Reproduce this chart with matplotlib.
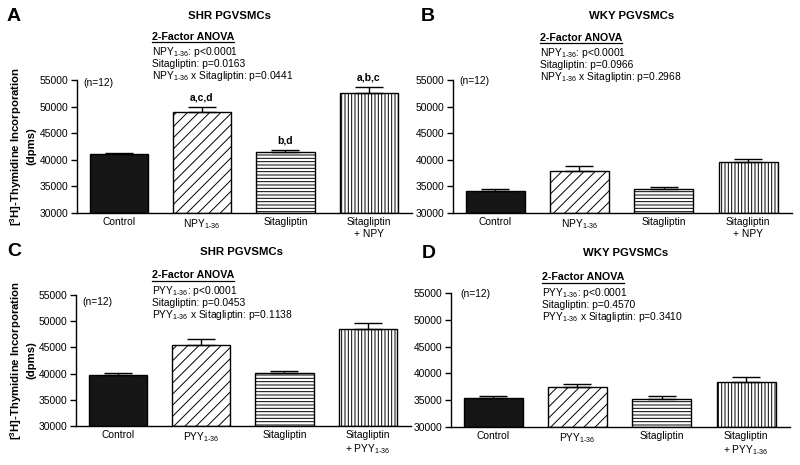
import matplotlib
matplotlib.use("Agg")
import matplotlib.pyplot as plt
from matplotlib.lines import Line2D
import numpy as np

plt.rcParams['font.family'] = ['Liberation Sans', 'DejaVu Sans']
plt.rcParams['mathtext.fontset'] = 'custom'
plt.rcParams['mathtext.rm'] = 'Liberation Sans'
plt.rcParams['mathtext.it'] = 'Liberation Sans:italic'
plt.rcParams['mathtext.bf'] = 'Liberation Sans:bold'
plt.rcParams['hatch.linewidth'] = 0.7

# ---------------- data ----------------
SUB = "$_{\\mathregular{1\\text{-}36}}$"
npy_labels = ["Control", "NPY" + SUB, "Sitagliptin", "Sitagliptin\n+ NPY"]
pyy_labels = ["Control", "PYY" + SUB, "Sitagliptin", "Sitagliptin\n+ PYY" + SUB]

shr_npy_mean = [41100, 48900, 41550, 52650]
shr_npy_err = [250, 1100, 330, 1080]
shr_npy_sig = ["", "a,c,d", "b,d", "a,b,c"]

wky_npy_mean = [34100, 37950, 34480, 39530]
wky_npy_err = [500, 880, 500, 700]

shr_pyy_mean = [39800, 45500, 40130, 48600]
shr_pyy_err = [380, 1090, 450, 1020]

wky_pyy_mean = [35420, 37520, 35300, 38400]
wky_pyy_err = [430, 500, 420, 870]

anova_A = ["NPY" + SUB + ": p<0.0001", "Sitagliptin: p=0.0163",
           "NPY" + SUB + " x Sitagliptin: p=0.0441"]
anova_B = ["NPY" + SUB + ": p<0.0001", "Sitagliptin: p=0.0966",
           "NPY" + SUB + " x Sitagliptin: p=0.2968"]
anova_C = ["PYY" + SUB + ": p<0.0001", "Sitagliptin: p=0.0453",
           "PYY" + SUB + " x Sitagliptin: p=0.1138"]
anova_D = ["PYY" + SUB + ": p<0.0001", "Sitagliptin: p=0.4570",
           "PYY" + SUB + " x Sitagliptin: p=0.3410"]

yticks = [30000, 35000, 40000, 45000, 50000, 55000]
hatches = ['', '///', '-----', '|||||']
faces = ['#161616', 'white', 'white', 'white']

W, H = 800, 465
fig = plt.figure(figsize=(W / 100, H / 100), dpi=100)


def px(x, y):
    return x / W, 1 - y / H


def make_ax(left, top, bottom, right):
    return fig.add_axes([left / W, 1 - bottom / H, (right - left) / W, (bottom - top) / H])


def draw_panel(ax, means, errs, labels, sig=None):
    x = np.arange(len(means))
    for i in range(len(means)):
        ax.bar(x[i], means[i] - 30000, bottom=30000, width=0.7, color=faces[i],
               edgecolor='black', linewidth=1.0, hatch=hatches[i], zorder=2)
    ax.errorbar(x, means, yerr=[np.zeros(len(errs)), errs], fmt='none', ecolor='black',
                elinewidth=1.0, capsize=10, capthick=1.0, zorder=3)
    if sig:
        for i, s in enumerate(sig):
            if s:
                ax.annotate(s, (x[i], means[i] + errs[i]), xytext=(0, 3), textcoords='offset points',
                            ha='center', va='bottom', fontsize=7.5, fontweight='bold')
    ax.set_ylim(30000, 55000)
    ax.set_xlim(-0.5, 3.52)
    ax.set_yticks(yticks)
    ax.set_xticks(x)
    ax.set_xticklabels(labels, fontsize=7.4, linespacing=1.25)
    ax.tick_params(axis='y', labelsize=7.4, length=4, width=1, direction='out', pad=2)
    ax.tick_params(axis='x', length=0, pad=3)
    for s in ['top', 'right']:
        ax.spines[s].set_visible(False)
    for s in ['left', 'bottom']:
        ax.spines[s].set_linewidth(1.0)
    ax.patch.set_alpha(0)


axA = make_ax(77, 80, 213, 412)
axB = make_ax(453, 80, 213, 792)
axC = make_ax(76, 295, 426, 411)
axD = make_ax(451, 293, 427, 790)

draw_panel(axA, shr_npy_mean, shr_npy_err, npy_labels, shr_npy_sig)
draw_panel(axB, wky_npy_mean, wky_npy_err, npy_labels)
draw_panel(axC, shr_pyy_mean, shr_pyy_err, pyy_labels)
draw_panel(axD, wky_pyy_mean, wky_pyy_err, pyy_labels)

# panel letters & titles
for letter, (lx, ly) in zip("ABCD", [(7, 21), (421, 21), (7, 255.5), (422, 258.5)]):
    fig.text(*px(lx, ly), letter, fontsize=14, fontweight='bold', ha='left', va='baseline')

for t, (tx, ty) in zip(["SHR PGVSMCs", "WKY PGVSMCs", "SHR PGVSMCs", "WKY PGVSMCs"],
                       [(229, 19), (632, 19), (241, 255), (626, 256.5)]):
    fig.text(*px(tx, ty), t, fontsize=8.2, fontweight='bold', ha='center', va='baseline')

# (n=12)
for (nx, ny) in [(83, 83), (459, 81), (82, 302), (460, 294)]:
    fig.text(*px(nx, ny), "(n=12)", fontsize=7.4, ha='left', va='center')

# y labels
for cy in [146, 360]:
    fig.text(*px(22, cy), "[$^{\\mathbf{3}}$H]-Thymidine Incorporation\n(dpms)", rotation=90,
             fontsize=8.2, fontweight='bold', ha='center', va='center', linespacing=1.3)

# ANOVA blocks
fig.canvas.draw()
renderer = fig.canvas.get_renderer()
for lines, (ax0, by) in zip([anova_A, anova_B, anova_C, anova_D],
                            [(152, 39.5), (540, 40.5), (152, 278), (542, 280)]):
    t = fig.text(*px(ax0, by), "2-Factor ANOVA", fontsize=7.7, fontweight='bold',
                 ha='left', va='baseline')
    bb = t.get_window_extent(renderer)
    uy = 1 - (by + 3) / H
    fig.add_artist(Line2D([bb.x0 / W, bb.x1 / W], [uy, uy], color='black', lw=0.9,
                          transform=fig.transFigure))
    for k, ln in enumerate(lines):
        fig.text(*px(ax0, by + 15.5 + 12 * k), ln, fontsize=7.4, ha='left', va='baseline')

fig.savefig("out.png", dpi=100)
